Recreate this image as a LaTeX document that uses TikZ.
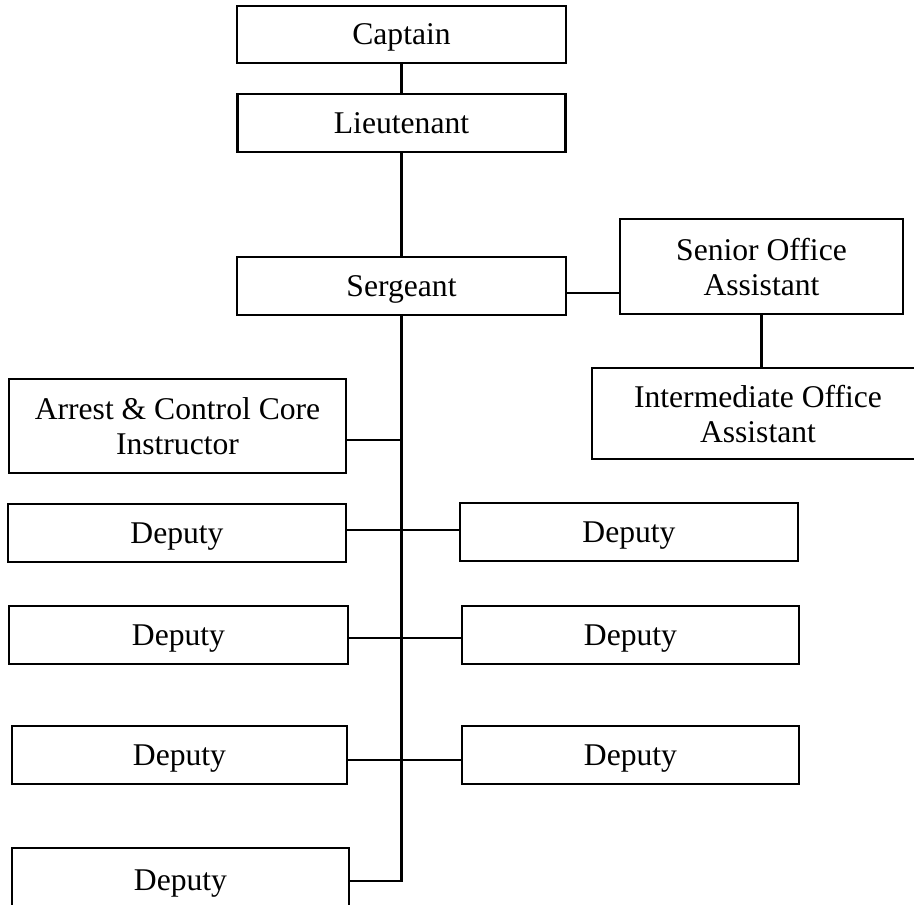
\documentclass[tikz,border=0pt]{standalone}
\usepackage{fontspec}
\setmainfont{Liberation Serif}
\usetikzlibrary{positioning}

\tikzset{
  post/.style={draw, line width=1.4pt, inner sep=0pt, align=center, text depth=0pt,
    font=\fontsize{18}{20}\selectfont, minimum width=6.76cm, minimum height=1.16cm},
  link/.style={line width=1.4pt, line join=miter},
}

\begin{document}
\begin{tikzpicture}[x=0.02cm, y=-0.02cm]
  \useasboundingbox (0,0) rectangle (914,904);
  \clip (0,0) rectangle (914,904);
  % chain of command
  \node[post, minimum width=6.58cm, minimum height=1.14cm] (captain) at (401.5,34.5) {Captain};
  \node[post, minimum width=6.56cm] (lieutenant) at (401.5,123) {Lieutenant};
  \node[post, minimum width=6.58cm] (sergeant) at (401.5,286) {Sergeant};
  % office staff
  \node[post, minimum width=5.66cm, minimum height=1.90cm] (senior) at (761.5,266.5) {Senior Office\\Assistant};
  \node[post, minimum width=6.64cm, minimum height=1.82cm] (inter) at (758,413.5) {Intermediate Office\\Assistant};
  % left column
  \node[post, minimum width=6.74cm, minimum height=1.88cm] (instructor) at (177.5,426) {Arrest \& Control Core\\Instructor};
  \node[post] (deputyA) at (177,533) {Deputy};
  \node[post, minimum width=6.78cm] (deputyC) at (178.5,635) {Deputy};
  \node[post, minimum width=6.70cm] (deputyE) at (179.5,755) {Deputy};
  \node[post, minimum width=6.74cm, minimum height=1.30cm] (deputyG) at (180.5,880.5) {Deputy};
  % right column
  \node[post] (deputyB) at (629,532) {Deputy};
  \node[post, minimum width=6.74cm] (deputyD) at (630.5,635) {Deputy};
  \node[post, minimum width=6.74cm] (deputyF) at (630.5,755) {Deputy};

  \coordinate (jsen) at (401.5,293);
  \coordinate (jins) at (401.5,440);
  \coordinate (jrow1) at (401.5,530);
  \coordinate (jrow2) at (401.5,638);
  \coordinate (jrow3) at (401.5,760);
  \coordinate (jend) at (401.5,881);

  \draw[link] (captain) -- (lieutenant);
  \draw[link] (lieutenant) -- (sergeant);
  \draw[link] (sergeant.east |- jsen) -- (senior.west |- jsen);
  \draw[link] (senior.south -| 761.5,0) -- (inter.north -| 761.5,0);
  % trunk with its branches
  \draw[link] (sergeant.south) -- (jend) -- (deputyG.east |- jend);
  \draw[link] (instructor.east |- jins) -- (jins);
  \draw[link] (deputyA.east |- jrow1) -- (jrow1) -- (deputyB.west |- jrow1);
  \draw[link] (deputyC.east |- jrow2) -- (jrow2) -- (deputyD.west |- jrow2);
  \draw[link] (deputyE.east |- jrow3) -- (jrow3) -- (deputyF.west |- jrow3);
\end{tikzpicture}
\end{document}
